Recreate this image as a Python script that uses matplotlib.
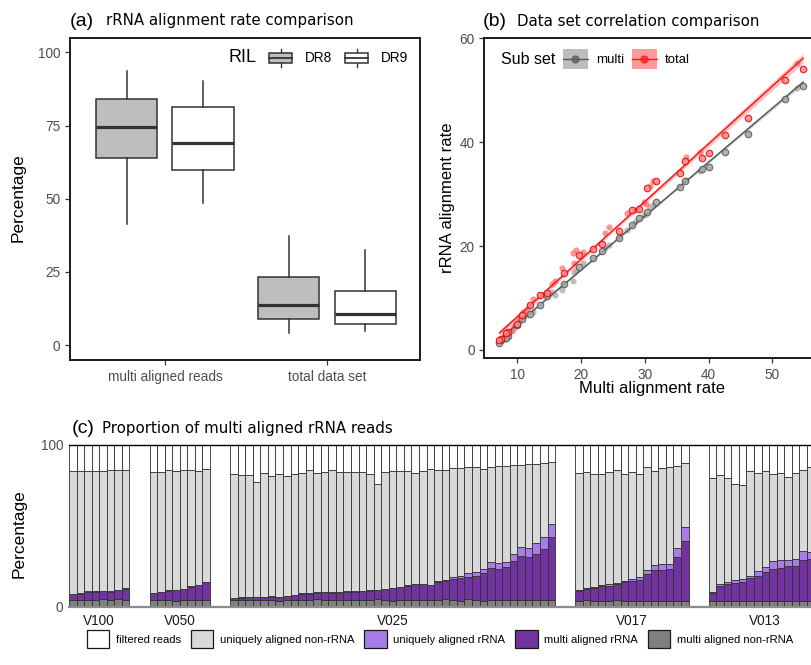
import numpy as np
import matplotlib
matplotlib.use("Agg")
import matplotlib.pyplot as plt
from matplotlib.patches import Rectangle, Patch
from matplotlib.lines import Line2D
from matplotlib.legend_handler import HandlerBase

plt.rcParams['font.family'] = ['Liberation Sans', 'DejaVu Sans']

# ---------------- data: panel (a) ----------------
a_categories = ["multi aligned reads", "total data set"]
a_ril = ["DR8", "DR9"]
# box stats per (category, RIL): whislo, q1, med, q3, whishi
a_whislo = {"DR8": [41.2, 4.0], "DR9": [48.4, 4.8]}
a_q1 = {"DR8": [63.8, 8.8], "DR9": [59.8, 7.2]}
a_med = {"DR8": [74.6, 13.8], "DR9": [68.9, 10.5]}
a_q3 = {"DR8": [84.2, 23.4], "DR9": [81.2, 18.5]}
a_whishi = {"DR8": [93.6, 37.1], "DR9": [90.3, 32.4]}
a_fill = {"DR8": "#BEBEBE", "DR9": "#FFFFFF"}

# ---------------- data: panel (b) ----------------
b_x = [54.8, 53.8, 51.9, 46.1, 42.6, 40.1, 38.9, 38.6, 36.5, 36.3, 35.5, 31.8, 31.3,
       30.8, 30.3, 30.2, 29.8, 29.1, 28.5, 28.0, 27.2, 26.0, 24.4, 23.8, 23.3, 21.9,
       20.35, 19.7, 19.2, 18.8, 18.9, 17.3, 17.0, 15.9, 15.4, 14.6, 13.6, 12.5, 12.0,
       11.5, 10.9, 10.7, 10.2, 9.9, 9.4, 9.1, 8.6, 8.3, 8.1, 7.5, 7.2]
b_multi = [50.8, 50.4, 48.3, 41.6, 38.1, 35.2, 34.8, 34.4, 32.8, 32.6, 31.3, 28.4, 27.9,
           27.6, 26.5, 26.2, 25.9, 25.4, 24.7, 24.1, 23.1, 21.5, 20.2, 19.6, 19.1, 17.8,
           16.7, 16.0, 15.4, 13.3, 15.1, 12.8, 11.6, 10.6, 11.2, 10.3, 8.7, 7.4, 7.0,
           6.7, 6.1, 5.9, 5.5, 4.8, 4.2, 3.7, 2.6, 2.3, 2.2, 1.9, 1.3]
b_total = [54.0, 55.2, 51.9, 44.7, 41.3, 38.0, 37.0, 38.2, 37.2, 36.3, 34.1, 32.6, 32.6,
           31.5, 31.1, 28.2, 28.4, 27.2, 26.9, 27.0, 26.3, 22.9, 23.6, 22.5, 20.5, 19.4,
           18.8, 18.2, 19.3, 18.6, 16.7, 14.8, 15.7, 13.2, 12.8, 10.9, 10.6, 9.9, 8.7,
           7.7, 7.3, 6.7, 6.1, 5.1, 4.6, 3.85, 3.5, 3.2, 2.8, 2.2, 1.9]
b_outlined = [1, 0, 1, 1, 1, 1, 1, 0, 0, 1, 1, 1, 0,
              0, 1, 0, 0, 1, 0, 1, 0, 1, 0, 0, 1, 1,
              0, 1, 0, 0, 0, 1, 0, 0, 0, 1, 1, 0, 1,
              0, 0, 1, 0, 1, 0, 0, 1, 1, 0, 1, 1]
b_subsets = ["multi", "total"]

# ---------------- data: panel (c) ----------------
c_groups = ["V100", "V050", "V025", "V017", "V013"]
c_seg_labels = ["multi aligned non-rRNA", "multi aligned rRNA", "uniquely aligned rRNA",
                "uniquely aligned non-rRNA", "filtered reads"]
c_seg_colors = ["#7F7F7F", "#7232A0", "#A97DE8", "#D9D9D9", "#FFFFFF"]
# cumulative levels (percent) read at the top of each segment
c_top_mnr = {
    "V100": [4.3, 4.3, 4.3, 4.3, 4.7, 4.3, 4.7, 4.3],
    "V050": [4.3, 4.3, 4.3, 3.7, 4.3, 4.3, 4.3, 4.3],
    "V025": [4.5, 4.5, 4.3, 4.3, 4.3, 4.3, 3.6, 4.5, 4.5, 4.1, 4.3, 4.7, 4.1, 4.3, 4.3,
             4.1, 4.3, 4.3, 4.3, 4.9, 4.3, 3.5, 4.3, 4.3, 4.3, 4.3, 4.5, 4.3, 4.9, 4.3,
             3.9, 5.1, 4.3, 3.7, 4.3, 4.3, 4.3, 4.3, 4.3, 4.3, 4.5, 4.3, 4.3],
    "V017": [3.7, 4.3, 3.7, 3.7, 3.7, 4.3, 3.7, 3.7, 3.7, 3.7, 3.7, 3.7, 3.7, 3.7, 3.7],
    "V013": [3.7, 3.7, 3.7, 3.7, 3.7, 3.7, 3.7, 3.7, 3.7, 3.7, 3.7, 3.7, 3.7, 3.7, 3.7],
}
c_top_mr = {
    "V100": [7.8, 8.2, 9.4, 9.4, 9.6, 9.4, 10.5, 11.3],
    "V050": [8.4, 9.0, 9.9, 10.5, 11.1, 12.5, 13.4, 15.4],
    "V025": [5.3, 5.6, 5.9, 5.9, 6.0, 6.2, 5.9, 6.6, 7.2, 8.2, 8.2, 8.8, 9.0, 8.8, 8.8,
             9.3, 9.3, 9.6, 9.9, 10.3, 10.9, 11.7, 12.1, 13.0, 14.0, 14.2, 13.4, 15.6,
             16.3, 17.3, 17.7, 18.7, 19.3, 21.0, 23.9, 23.7, 24.5, 28.4, 31.5, 31.1,
             32.5, 36.0, 43.4],
    "V017": [10.1, 10.9, 11.5, 13.0, 13.2, 14.2, 15.4, 16.3, 16.5, 20.4, 22.8, 22.8,
             23.2, 31.1, 40.7],
    "V013": [8.4, 13.0, 14.2, 15.0, 15.6, 17.7, 19.1, 21.6, 23.5, 24.3, 25.3, 25.3,
             29.0, 29.4, 30.0],
}
c_top_ur = {
    "V100": [8.1, 8.5, 9.7, 9.7, 9.9, 9.7, 10.8, 11.6],
    "V050": [8.7, 9.3, 10.2, 10.8, 11.4, 12.8, 13.7, 15.7],
    "V025": [5.6, 5.9, 6.2, 6.2, 6.3, 6.5, 6.2, 6.9, 7.5, 8.5, 8.5, 9.1, 9.3, 9.1, 9.1,
             9.6, 9.6, 9.9, 10.2, 10.6, 11.2, 12.0, 12.4, 13.3, 14.3, 14.5, 13.7, 15.9,
             16.6, 18.7, 19.1, 20.8, 21.4, 23.5, 27.6, 27.0, 27.8, 32.9, 37.2, 36.4,
             39.7, 43.0, 51.4],
    "V017": [10.7, 11.5, 12.1, 13.8, 14.2, 15.0, 16.0, 17.5, 18.3, 22.8, 25.9, 26.3,
             26.5, 36.2, 49.2],
    "V013": [9.5, 14.0, 15.4, 16.7, 17.1, 19.1, 22.2, 24.9, 28.2, 28.8, 29.0, 29.4,
             34.6, 34.1, 35.0],
}
c_top_unr = {
    "V100": [84.0, 84.2, 84.2, 84.2, 84.0, 84.4, 84.4, 84.6],
    "V050": [83.5, 83.5, 84.4, 84.0, 84.4, 84.4, 84.0, 85.0],
    "V025": [81.9, 81.5, 81.3, 77.0, 82.5, 80.7, 82.1, 80.9, 81.9, 82.5, 84.6, 82.7,
             83.5, 84.4, 83.5, 83.3, 83.3, 83.5, 82.3, 75.9, 83.5, 84.2, 84.2, 84.2,
             82.9, 84.0, 85.0, 84.8, 84.4, 85.6, 85.8, 86.2, 86.6, 85.2, 86.6, 87.0,
             86.8, 87.7, 87.7, 88.3, 88.1, 88.7, 89.5],
    "V017": [82.5, 83.3, 82.3, 82.3, 83.3, 84.4, 82.3, 83.5, 81.9, 86.6, 84.0, 85.6,
             86.6, 87.0, 88.7],
    "V013": [79.8, 81.5, 79.4, 75.7, 75.1, 84.0, 82.5, 84.1, 82.1, 82.9, 80.4, 82.5,
             84.6, 86.2, 86.5],
}

# ---------------- figure ----------------
W, H = 811, 665
fig = plt.figure(figsize=(W / 100, H / 100), dpi=100)


def fx(px):
    return px / W


def fy(py):
    return 1 - py / H


def axes_px(l, t, r, b):
    return fig.add_axes([fx(l), fy(b), (r - l) / W, (b - t) / H])


TICK_C = "#4D4D4D"
LINE_C = "#333333"


def style_axes(ax):
    for s in ax.spines.values():
        s.set_color("#1A1A1A")
        s.set_linewidth(1.4)
    ax.tick_params(colors=LINE_C, labelcolor=TICK_C, labelsize=9.8, length=3.5, width=0.9)


def title(px_left_tag, px_left_txt, py_base, tag, txt):
    fig.text(fx(px_left_tag), fy(py_base), tag, fontsize=14, va="baseline", ha="left",
             family=["Liberation Sans"])
    fig.text(fx(px_left_txt), fy(py_base), txt, fontsize=10.8, va="baseline", ha="left",
             family=["DejaVu Sans"])


# ---------- panel (a) ----------
axA = axes_px(70, 38.3, 420, 360)
style_axes(axA)
offs = {"DR8": -0.235, "DR9": 0.235}
for ril in a_ril:
    stats = []
    for i in range(len(a_categories)):
        stats.append(dict(med=a_med[ril][i], q1=a_q1[ril][i], q3=a_q3[ril][i],
                          whislo=a_whislo[ril][i], whishi=a_whishi[ril][i], fliers=[]))
    pos = [i + 1 + offs[ril] for i in range(len(a_categories))]
    axA.bxp(stats, positions=pos, widths=0.377, patch_artist=True, showcaps=False,
            showfliers=False, manage_ticks=False,
            boxprops=dict(facecolor=a_fill[ril], edgecolor=LINE_C, linewidth=1.1),
            whiskerprops=dict(color=LINE_C, linewidth=1.1),
            medianprops=dict(color=LINE_C, linewidth=2.3, solid_capstyle="butt"))
axA.set_xlim(0.414, 2.574)
axA.set_ylim(-5.12, 104.8)
axA.set_xticks([1, 2])
axA.set_xticklabels(a_categories)
axA.set_yticks([0, 25, 50, 75, 100])
title(70, 106, 25.5, "(a)", "rRNA alignment rate comparison")
fig.text(fx(18.5), fy(198), "Percentage", rotation=90, ha="center", va="center", fontsize=12.5)


class BoxKey(HandlerBase):
    def create_artists(self, legend, orig_handle, xdescent, ydescent, width, height,
                       fontsize, trans):
        x0, y0 = -xdescent, -ydescent
        fc = orig_handle.get_facecolor()
        bh = height * 0.58
        by = y0 + (height - bh) / 2
        cx = x0 + width / 2
        arts = [Line2D([cx, cx], [y0, by], color=LINE_C, lw=1.0, transform=trans),
                Line2D([cx, cx], [by + bh, y0 + height], color=LINE_C, lw=1.0, transform=trans),
                Rectangle((x0, by), width, bh, facecolor=fc, edgecolor=LINE_C, lw=1.1,
                          transform=trans),
                Line2D([x0, x0 + width], [y0 + height / 2] * 2, color=LINE_C, lw=1.3,
                       transform=trans)]
        return arts


hA = [Patch(facecolor=a_fill[r]) for r in a_ril]
fig.text(fx(229), fy(58), "RIL", fontsize=13, ha="left", va="center")
legA = fig.legend(hA, a_ril, loc="center left", bbox_to_anchor=(fx(269), fy(58)), ncol=2,
                  frameon=False, fontsize=9.8, handlelength=1.7, handleheight=1.75,
                  handletextpad=0.95, columnspacing=0.95, borderpad=0, borderaxespad=0,
                  handler_map={Patch: BoxKey()})

# ---------- panel (b) ----------
axB = axes_px(484.3, 38.3, 819, 358)
style_axes(axB)
bx = np.array(b_x)
ser = {"multi": np.array(b_multi), "total": np.array(b_total)}
outl = np.array(b_outlined, dtype=bool)
col_line = {"multi": "#5A5A5A", "total": "#FF1A1A"}
col_rib = {"multi": "#BDBDBD", "total": "#FF9A9A"}
col_pale = {"multi": "#A8A8A8", "total": "#FF6E6E"}
col_fill = {"multi": "#A3A3A3", "total": "#FF8484"}
col_edge = {"multi": "#555555", "total": "#E80000"}
for s in b_subsets:
    yv = ser[s]
    b1, b0 = np.polyfit(bx, yv, 1)
    n = len(bx)
    resid = yv - (b0 + b1 * bx)
    sd = np.sqrt(np.sum(resid ** 2) / (n - 2))
    xm = bx.mean()
    sxx = np.sum((bx - xm) ** 2)
    xg = np.linspace(bx.min(), bx.max(), 100)
    yg = b0 + b1 * xg
    se = sd * np.sqrt(1 / n + (xg - xm) ** 2 / sxx)
    axB.fill_between(xg, yg - 2.01 * se, yg + 2.01 * se, color=col_rib[s], alpha=0.6, lw=0,
                     zorder=1)
    axB.plot(xg, yg, color=col_line[s], lw=1.1, zorder=3)
    axB.scatter(bx[~outl], yv[~outl], s=20, color=col_pale[s], alpha=0.75, lw=0, zorder=2)
    axB.scatter(bx[outl], yv[outl], s=22, facecolor=col_fill[s], edgecolor=col_edge[s],
                lw=0.8, alpha=0.85, zorder=4)
axB.set_xlim(4.82, 57.3)
axB.set_ylim(-1.54, 60)
axB.set_xticks([10, 20, 30, 40, 50])
axB.set_yticks([0, 20, 40, 60])
title(482.7, 516.7, 25.7, "(b)", "Data set correlation comparison")
fig.text(fx(447.5), fy(198), "rRNA alignment rate", rotation=90, ha="center", va="center",
         fontsize=12)
fig.text(fx(651.7), fy(389), "Multi alignment rate", ha="center", va="center", fontsize=12)


class SmoothKey(HandlerBase):
    def create_artists(self, legend, orig_handle, xdescent, ydescent, width, height,
                       fontsize, trans):
        x0, y0 = -xdescent, -ydescent
        fc = orig_handle.get_facecolor()
        lc = orig_handle.get_edgecolor()
        cy = y0 + height / 2
        return [Rectangle((x0, y0), width, height, facecolor=fc, edgecolor="none",
                          transform=trans),
                Line2D([x0, x0 + width], [cy, cy], color=lc, lw=1.0, transform=trans),
                Line2D([x0 + width / 2], [cy], marker="o", ms=5, color=lc,
                       markerfacecolor=lc, alpha=0.75, transform=trans)]


hB = [Patch(facecolor=col_rib[s], edgecolor=col_line[s]) for s in b_subsets]
fig.text(fx(500.7), fy(59.5), "Sub set", fontsize=11.5, ha="left", va="center")
legB = fig.legend(hB, b_subsets, loc="center left", bbox_to_anchor=(fx(562.7), fy(59)),
                  ncol=2, frameon=False, fontsize=9.5, handlelength=1.9, handleheight=1.9,
                  handletextpad=0.6, columnspacing=0.6, borderpad=0, borderaxespad=0,
                  handler_map={Patch: SmoothKey()})

# ---------- panel (c) ----------
axC = axes_px(69, 445, 822, 607)
gap = 2.65
start = 0.0
centers = []
for g in c_groups:
    nb = len(c_top_unr[g])
    xpos = start + np.arange(nb) + 0.5
    lv = [np.zeros(nb), np.array(c_top_mnr[g]), np.array(c_top_mr[g]),
          np.array(c_top_ur[g]), np.array(c_top_unr[g]), np.full(nb, 100.0)]
    for k in range(5):
        axC.bar(xpos, lv[k + 1] - lv[k], bottom=lv[k], width=1.0, color=c_seg_colors[k],
                edgecolor="#303030", linewidth=0.6, zorder=2)
    centers.append(start + nb / 2)
    start += nb + gap
axC.set_xlim(0, start - gap)
axC.set_ylim(0, 100)
for s in ["left", "right"]:
    axC.spines[s].set_visible(False)
axC.spines["top"].set_color("black")
axC.spines["top"].set_linewidth(1.0)
axC.spines["bottom"].set_color("#8C8C8C")
axC.spines["bottom"].set_linewidth(1.6)
axC.set_yticks([0, 100])
axC.set_xticks(centers)
axC.set_xticklabels(c_groups)
axC.tick_params(axis="y", length=0, pad=4, labelcolor=TICK_C, labelsize=9.8)
axC.tick_params(axis="x", length=0, pad=5, labelcolor="#1A1A1A", labelsize=9.8)
title(71.7, 101.7, 432.7, "(c)", "Proportion of multi aligned rRNA reads")
fig.text(fx(19), fy(534), "Percentage", rotation=90, ha="center", va="center", fontsize=12.5)

leg_order = [4, 3, 2, 1, 0]
hC = [Patch(facecolor=c_seg_colors[k], edgecolor="#1A1A1A", linewidth=0.9) for k in leg_order]
fig.legend(hC, [c_seg_labels[k] for k in leg_order], loc="center",
           bbox_to_anchor=(fx(440), fy(639)), ncol=5, frameon=False, fontsize=8.1,
           handlelength=2.0, handleheight=2.0, handletextpad=0.6, columnspacing=0.85,
           borderpad=0, borderaxespad=0)

fig.savefig("out.png", dpi=100)
